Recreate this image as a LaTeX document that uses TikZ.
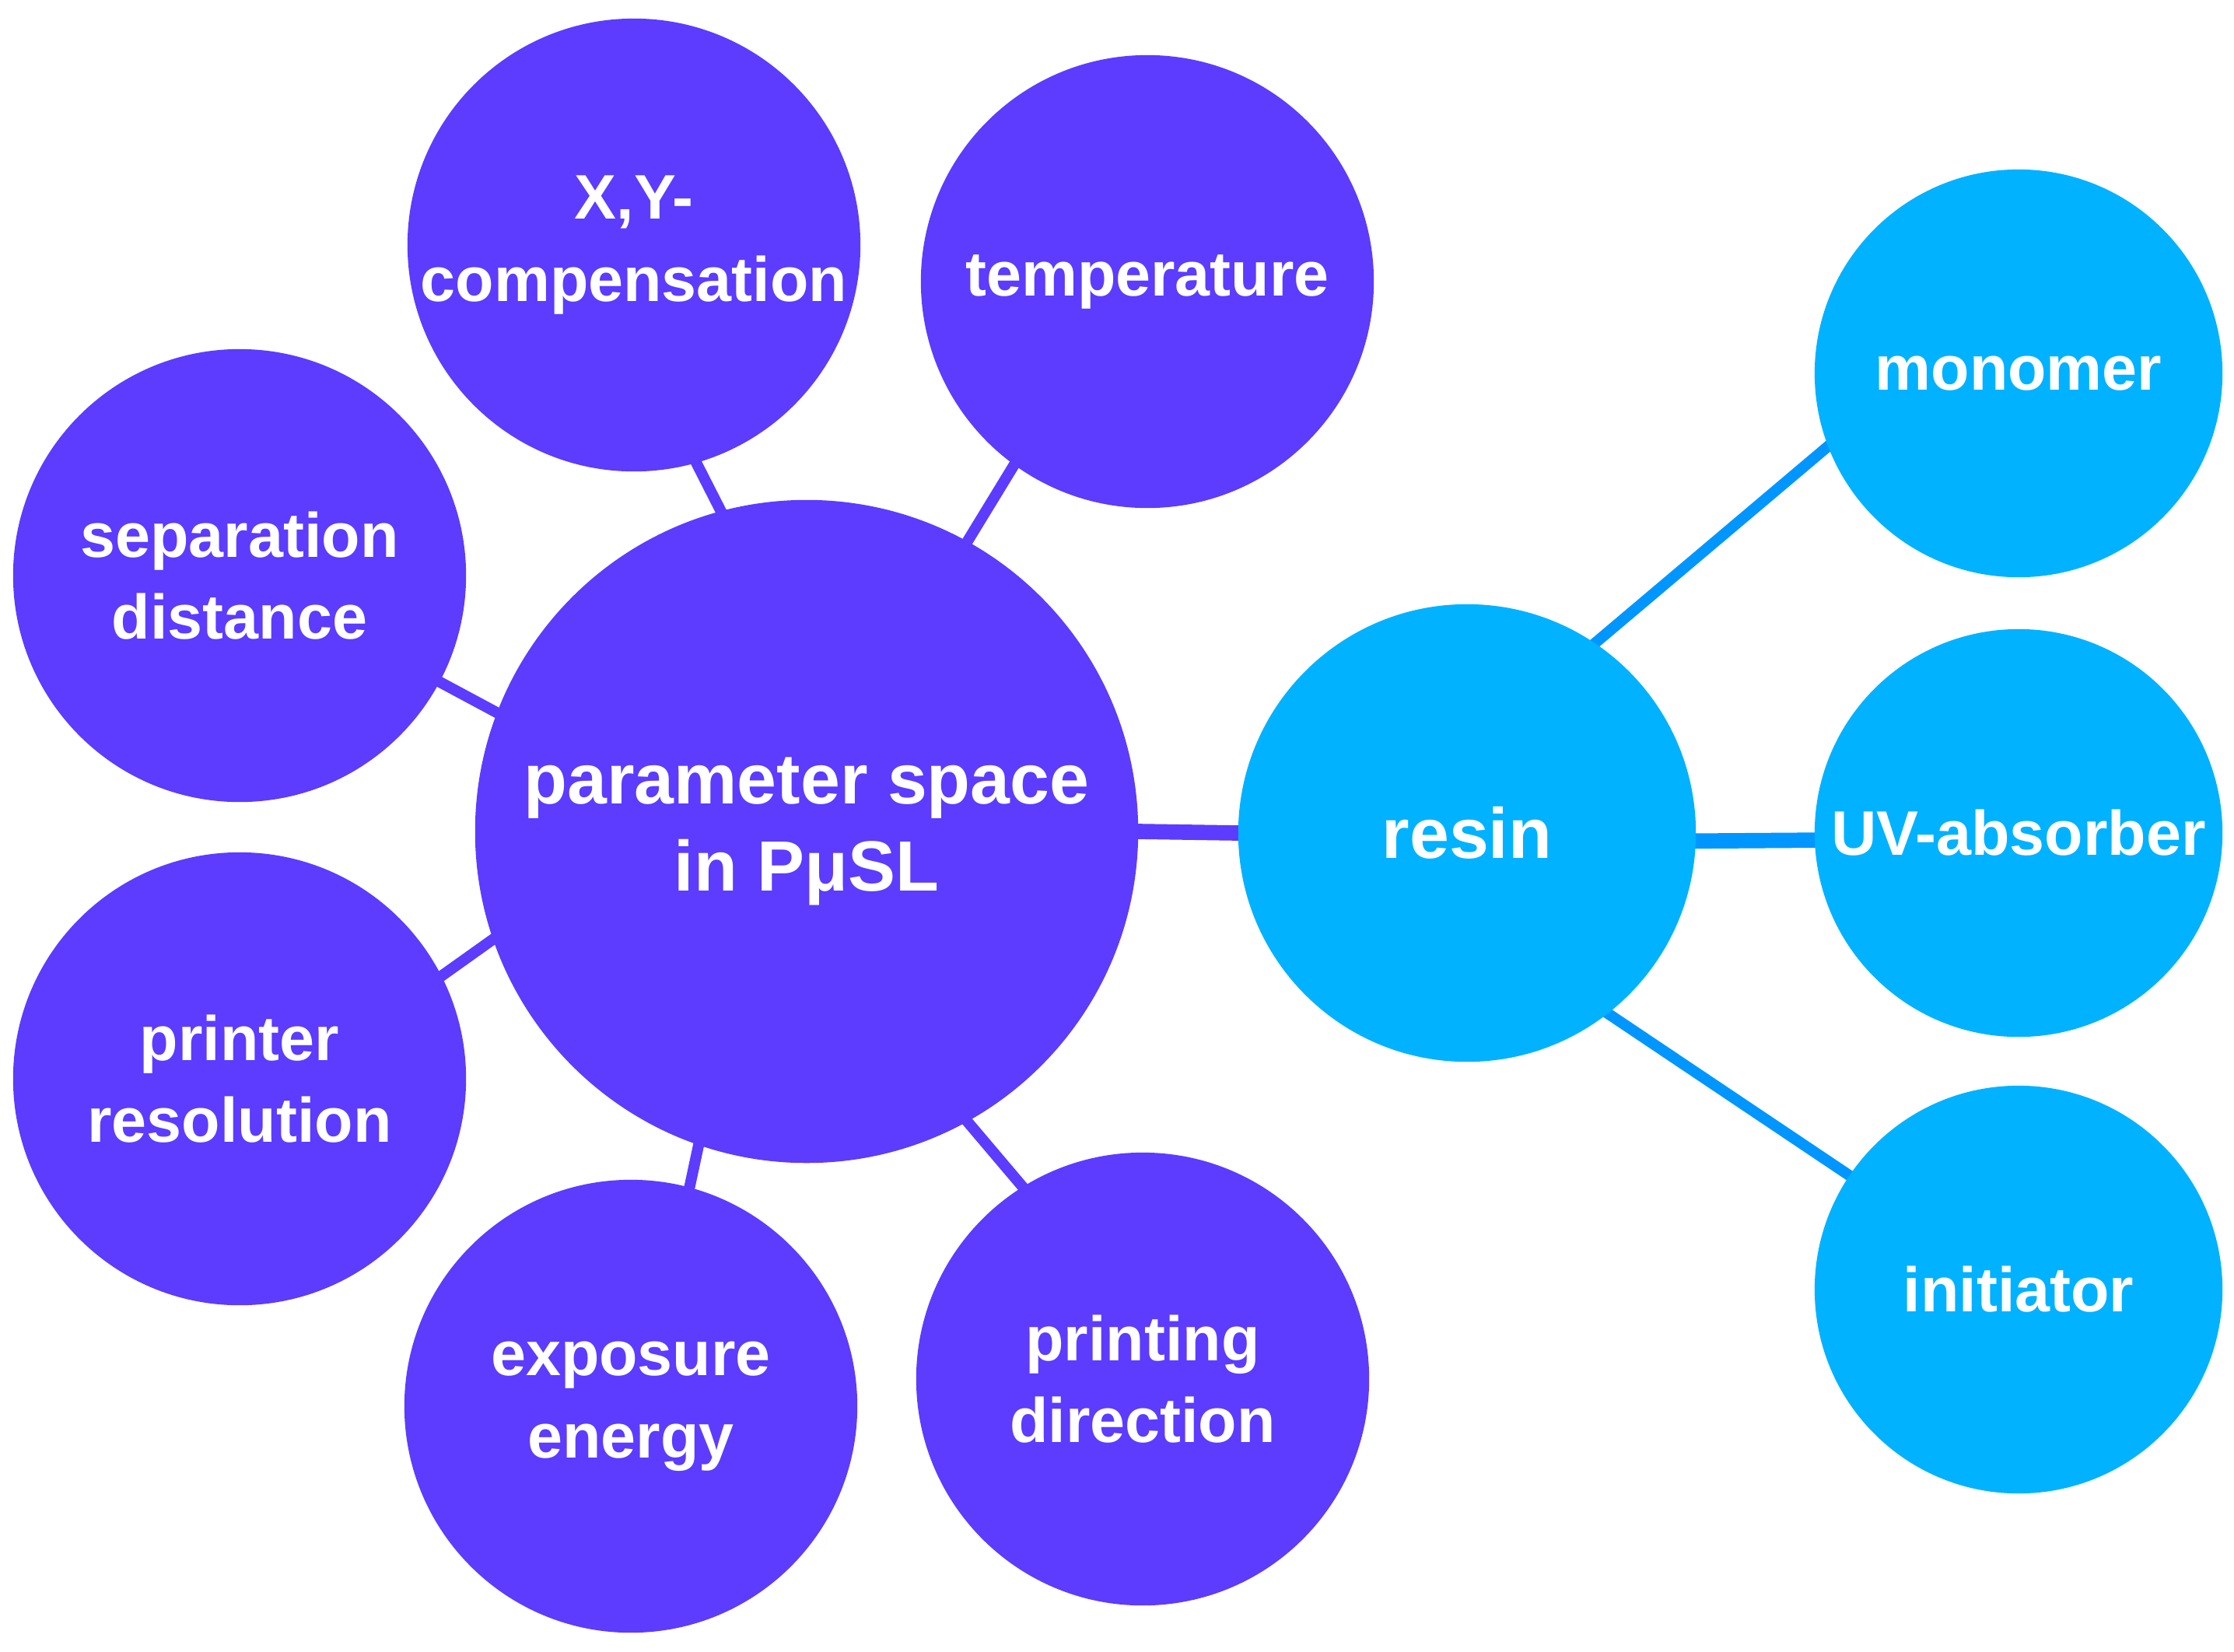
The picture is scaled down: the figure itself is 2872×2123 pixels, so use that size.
\documentclass[tikz,border=0pt]{standalone}
\usepackage{fontspec}
\setmainfont{Liberation Sans}
\usepackage{xcolor}
\usepackage{tikz}
\usetikzlibrary{backgrounds}

\definecolor{parviolet}{HTML}{5D3BFF}
\definecolor{resblue}{HTML}{00B2FF}
\definecolor{linkblue}{HTML}{0096FF}

\begin{document}
\begin{tikzpicture}[
    x=0.01cm, y=-0.01cm,
    every node/.style={align=center, text=white, font=\bfseries\fontsize{23}{30}\selectfont},
    bubble/.style={circle, inner sep=0pt, minimum size=5.82cm},
    parnode/.style={bubble, fill=parviolet},
    resnode/.style={bubble, fill=resblue, minimum size=5.24cm},
    link/.style={line width=4pt, shorten <=-5pt, shorten >=-5pt},
    thicklink/.style={link, line width=5.6pt}
]
    \useasboundingbox (0,0) rectangle (2872,2123);

    % central parameter space
    \node[parnode, minimum size=8.52cm, font=\bfseries\fontsize{26}{32}\selectfont] (space) at (1037,1069) {parameter space\\in PμSL};

    % printer parameters
    \node[parnode] (xy) at (815,315) {X,Y-\\compensation};
    \node[parnode] (temp) at (1475,362) {temperature};
    \node[parnode] (sep) at (308,740) {separation\\distance};
    \node[parnode] (res) at (308,1387) {printer\\resolution};
    \node[parnode] (expo) at (811,1808) {exposure\\energy};
    \node[parnode] (dir) at (1469,1773) {printing\\direction};

    % resin and its components
    \node[parnode, fill=resblue, minimum size=5.88cm, font=\bfseries\fontsize{26}{32}\selectfont] (resin) at (1886,1071) {resin};
    \node[resnode] (mono) at (2595,480) {monomer};
    \node[resnode] (uv) at (2595,1071) {UV-absorber};
    \node[resnode] (init) at (2595,1658) {initiator};

    \begin{scope}[on background layer]
        \draw[link, parviolet] (space.105.6) -- (xy.286.3);
        \draw[link, parviolet] (space.61.8) -- (temp.234.9);
        \draw[link, parviolet] (space.159.3) -- (sep.332.8);
        \draw[link, parviolet] (space.199.6) -- (res.27.4);
        \draw[link, parviolet] (space.251.5) -- (expo.75.4);
        \draw[link, parviolet] (space.299.3) -- (dir.122.4);
        \draw[thicklink, parviolet] (space.east) -- (resin.west);

        \draw[link, linkblue] (resin.56) -- (mono.201.6);
        \draw[thicklink, linkblue] (resin.358.5) -- (uv.182);
        \draw[link, linkblue] (resin.308.5) -- (init.146.7);
    \end{scope}
\end{tikzpicture}
\end{document}
